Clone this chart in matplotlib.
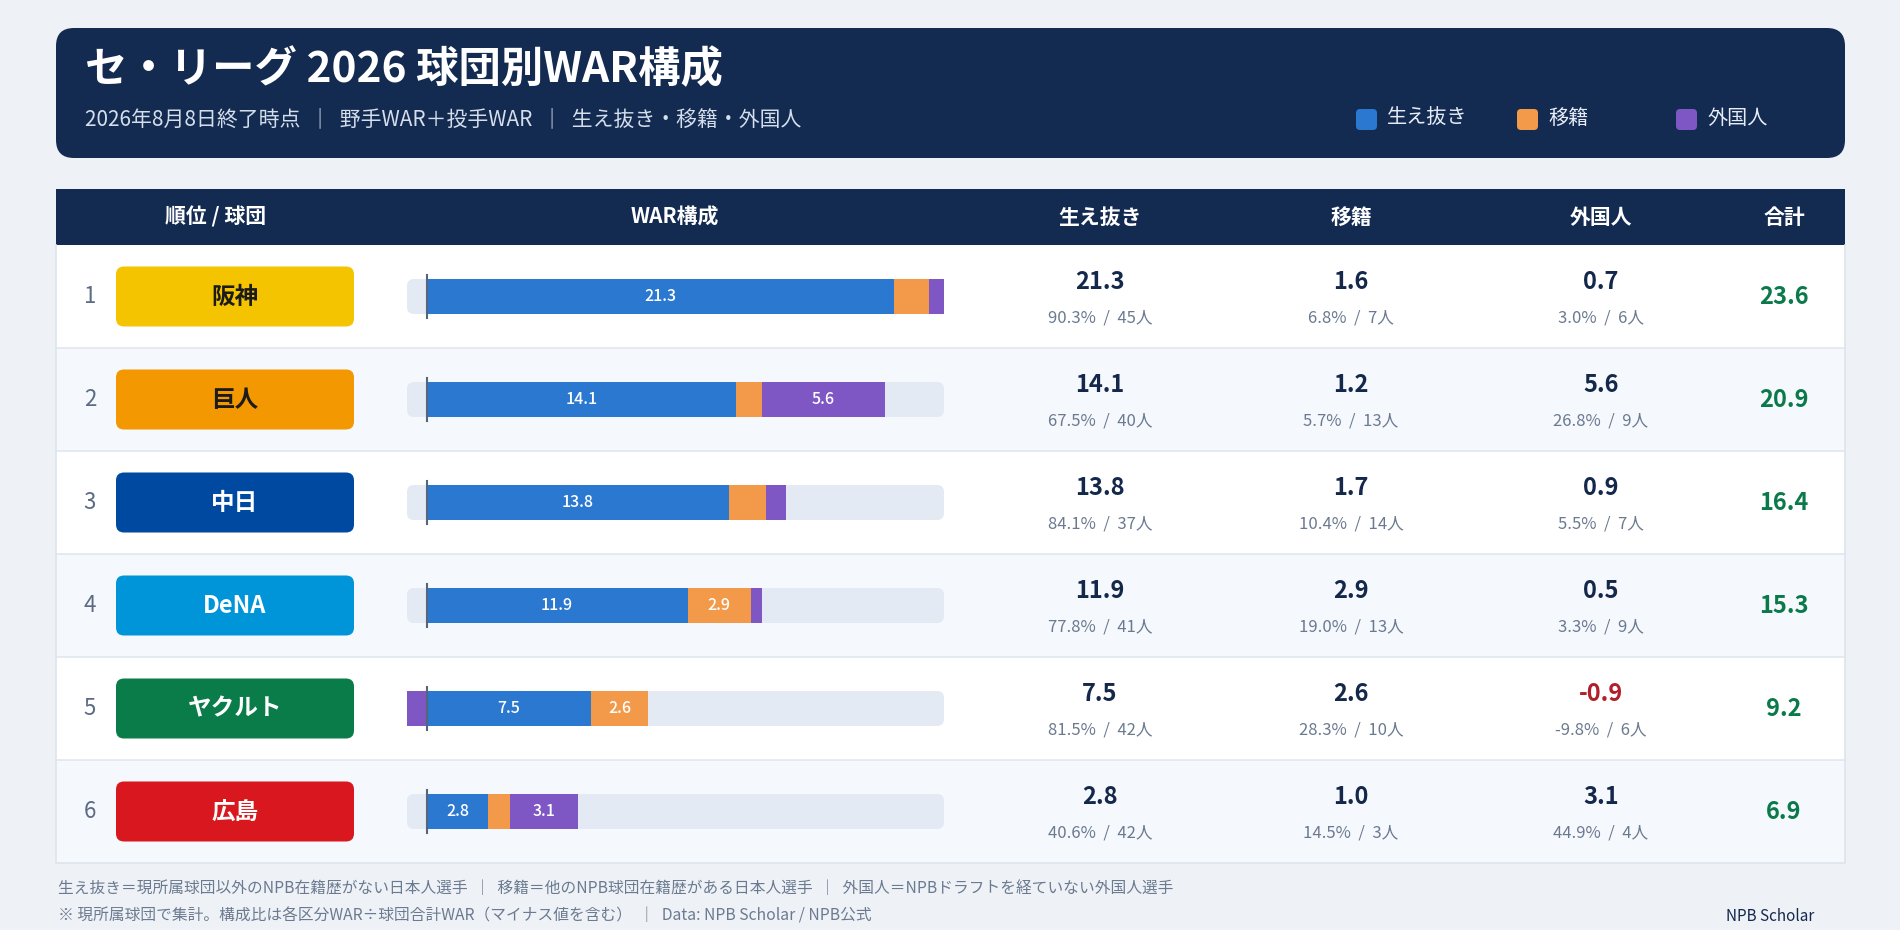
import numpy as np
import matplotlib
matplotlib.use("Agg")
import matplotlib.pyplot as plt
from matplotlib.patches import FancyBboxPatch, Rectangle

plt.rcParams['font.family'] = ['Noto Sans CJK JP', 'DejaVu Sans']

# data
ranks = [1, 2, 3, 4, 5, 6]
teams = ['阪神', '巨人', '中日', 'DeNA', 'ヤクルト', '広島']
team_colors = ['#f5c400', '#f39800', '#0049a0', '#0095d9', '#0a7c4a', '#d8171e']
team_text = ['#1b1b1b', '#1b1b1b', 'white', 'white', 'white', 'white']

haenuki = [21.3, 14.1, 13.8, 11.9, 7.5, 2.8]
iseki = [1.6, 1.2, 1.7, 2.9, 2.6, 1.0]
gaikoku = [0.7, 5.6, 0.9, 0.5, -0.9, 3.1]
total = [23.6, 20.9, 16.4, 15.3, 9.2, 6.9]

haenuki_pct = [90.3, 67.5, 84.1, 77.8, 81.5, 40.6]
iseki_pct = [6.8, 5.7, 10.4, 19.0, 28.3, 14.5]
gaikoku_pct = [3.0, 26.8, 5.5, 3.3, -9.8, 44.9]
haenuki_n = [45, 40, 37, 41, 42, 42]
iseki_n = [7, 13, 14, 13, 10, 3]
gaikoku_n = [6, 9, 7, 9, 6, 4]

categories = ['生え抜き', '移籍', '外国人']
cat_colors = ['#2b78d0', '#f29a4a', '#7e57c4']

NAVY = '#132a51'
BG = '#eef2f7'

W, H = 1900, 930
fig = plt.figure(figsize=(W / 100, H / 100), dpi=100, facecolor=BG)
ax = fig.add_axes([0, 0, 1, 1])
ax.set_xlim(0, W)
ax.set_ylim(H, 0)
ax.axis('off')

# title card
ax.add_patch(FancyBboxPatch((56, 28), 1789, 130, boxstyle="round,pad=0,rounding_size=18",
                            fc=NAVY, ec='none'))
ax.text(85, 70, 'セ・リーグ 2026 球団別WAR構成', color='white', fontsize=30.5,
        fontweight='bold', va='center', ha='left')
ax.text(85, 119, '2026年8月8日終了時点  ｜  野手WAR＋投手WAR  ｜  生え抜き・移籍・外国人',
        color='#d5deeb', fontsize=15, va='center', ha='left')

leg_x = [1356, 1517, 1676]
for lx, lab, c in zip(leg_x, categories, cat_colors):
    ax.add_patch(FancyBboxPatch((lx, 109), 21, 21, boxstyle="round,pad=0,rounding_size=4",
                                fc=c, ec='none'))
    ax.text(lx + 31, 118, lab, color='#e6ecf5', fontsize=14.5, va='center', ha='left')

# table
tx0, tx1 = 56, 1845
head_top, head_bot = 189, 245
row_h = 103
n = len(teams)
table_bot = head_bot + n * row_h

ax.add_patch(Rectangle((tx0, head_top), tx1 - tx0, head_bot - head_top, fc=NAVY, ec='none'))
col_x = {'team': 216, 'bar': 675, 'h': 1100, 'i': 1351, 'g': 1601, 't': 1784}
headers = [('team', '順位 / 球団'), ('bar', 'WAR構成'), ('h', '生え抜き'),
           ('i', '移籍'), ('g', '外国人'), ('t', '合計')]
for key, lab in headers:
    ax.text(col_x[key], 217, lab, color='white', fontsize=15, fontweight='bold',
            ha='center', va='center')

for i in range(n):
    top = head_bot + i * row_h
    ax.add_patch(Rectangle((tx0, top), tx1 - tx0, row_h,
                           fc='white' if i % 2 == 0 else '#f5f8fc', ec='none'))
    if i > 0:
        ax.plot([tx0, tx1], [top, top], color='#e1e7ef', lw=1.2)
    cy = top + row_h / 2

    ax.text(90, cy, str(ranks[i]), color='#5b6b84', fontsize=16, ha='center', va='center')
    ax.add_patch(FancyBboxPatch((116, cy - 30), 238, 60, boxstyle="round,pad=0,rounding_size=8",
                                fc=team_colors[i], ec='none'))
    ax.text(235, cy, teams[i], color=team_text[i], fontsize=17, fontweight='bold',
            ha='center', va='center')

    vals = [(col_x['h'], haenuki[i], haenuki_pct[i], haenuki_n[i]),
            (col_x['i'], iseki[i], iseki_pct[i], iseki_n[i]),
            (col_x['g'], gaikoku[i], gaikoku_pct[i], gaikoku_n[i])]
    for x, v, p, cnt in vals:
        ax.text(x, top + 37, f'{v:.1f}', color='#b0202c' if v < 0 else '#14284b',
                fontsize=17, fontweight='bold', ha='center', va='center')
        ax.text(x, top + 73, f'{p:.1f}%  /  {cnt}人', color='#6b7a90', fontsize=12,
                ha='center', va='center')
    ax.text(col_x['t'], cy, f'{total[i]:.1f}', color='#0b7a4b', fontsize=17,
            fontweight='bold', ha='center', va='center')

# table outline
ax.plot([tx0, tx0, tx1, tx1], [head_bot, table_bot, table_bot, head_bot], color='#dde4ed', lw=1.2)

# bar column
xmin = min(0, min(gaikoku))
xmax = max(total)
bx0, bx1 = 407, 944
bax = fig.add_axes([bx0 / W, 1 - table_bot / H, (bx1 - bx0) / W, (table_bot - head_bot) / H])
bax.set_xlim(xmin, xmax)
bax.set_ylim(n - 0.5, -0.5)
bax.axis('off')
bax.patch.set_alpha(0)

bh = 35 / row_h
px_x = (bx1 - bx0) / (xmax - xmin)
rnd = 7 / px_x
for i in range(n):
    bax.add_patch(FancyBboxPatch((xmin, i - bh / 2), xmax - xmin, bh,
                                 boxstyle=f"round,pad=0,rounding_size={rnd}",
                                 mutation_aspect=px_x / row_h, fc='#e3eaf3', ec='none', zorder=1))

y = np.arange(n)
pos_left = np.zeros(n)
neg_left = np.zeros(n)
for series, c in zip([haenuki, iseki, gaikoku], cat_colors):
    s = np.array(series)
    left = np.where(s >= 0, pos_left, neg_left + s)
    bars = bax.barh(y, np.abs(s), left=left, height=bh, color=c, zorder=2)
    for k, b in enumerate(bars):
        if abs(s[k]) >= 2.5:
            bax.text(left[k] + abs(s[k]) / 2, k, f'{s[k]:.1f}', color='white', fontsize=11.5,
                     fontweight='medium', ha='center', va='center', zorder=3)
    pos_left = pos_left + np.where(s >= 0, s, 0)
    neg_left = neg_left + np.where(s < 0, s, 0)

for i in range(n):
    bax.plot([0, 0], [i - bh / 2 - 0.04, i + bh / 2 + 0.04], color='#55657d', lw=1.5, zorder=4)

# footer
ax.text(58, 888, '生え抜き＝現所属球団以外のNPB在籍歴がない日本人選手  ｜  移籍＝他のNPB球団在籍歴がある日本人選手  ｜  外国人＝NPBドラフトを経ていない外国人選手',
        color='#6b7a90', fontsize=11.3, ha='left', va='center')
ax.text(58, 916, '※ 現所属球団で集計。構成比は各区分WAR÷球団合計WAR（マイナス値を含む）  ｜  Data: NPB Scholar / NPB公式',
        color='#6b7a90', fontsize=11.3, ha='left', va='center')
ax.text(1814, 916, 'NPB Scholar', color='#14284b', fontsize=11, ha='right', va='center')

fig.savefig('out.png', dpi=100, facecolor=BG)
